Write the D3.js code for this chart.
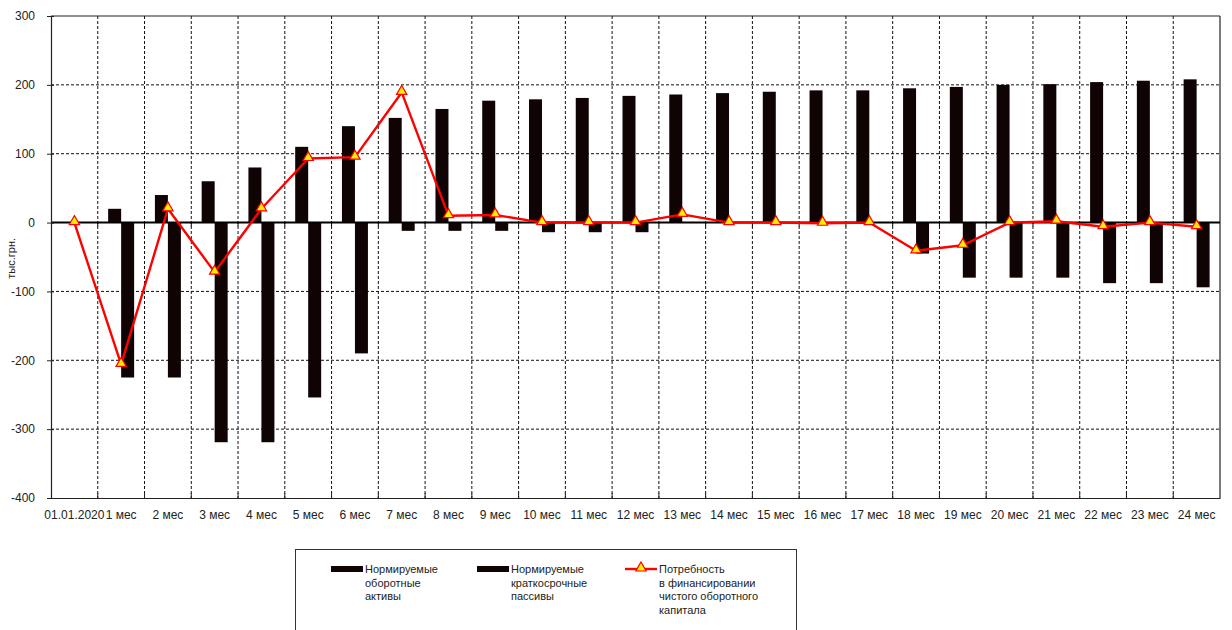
<!DOCTYPE html>
<html>
<head>
<meta charset="utf-8">
<script src="https://cdn.jsdelivr.net/npm/d3@7"></script>
<style>
  html, body { margin: 0; padding: 0; background: #fff; }
  svg { display: block; font-family: "Liberation Sans", Arial, sans-serif; }
</style>
</head>
<body>
<svg id="chart" width="1232" height="630"></svg>
<script>
// Categories: start date plus 24 months
const categories = ["01.01.2020", "1 мес", "2 мес", "3 мес", "4 мес", "5 мес", "6 мес", "7 мес", "8 мес",
  "9 мес", "10 мес", "11 мес", "12 мес", "13 мес", "14 мес", "15 мес", "16 мес", "17 мес", "18 мес",
  "19 мес", "20 мес", "21 мес", "22 мес", "23 мес", "24 мес"];

// Нормируемые оборотные активы, тыс.грн.
const assets = [0, 20, 40, 60, 80, 110, 140, 152, 165, 177, 179, 181, 184, 186, 188, 190, 192, 192,
  195, 197, 200, 201, 204, 206, 208];

// Нормируемые краткосрочные пассивы, тыс.грн.
const liabilities = [0, -225, -225, -319, -319, -254, -190, -12, -12, -12, -14, -14, -14, 0, 0, 0, 0, 0,
  -45, -80, -80, -80, -88, -88, -94];

// Потребность в финансировании чистого оборотного капитала, тыс.грн.
const need = [0, -206, 20, -72, 20, 93, 95, 189, 10, 11, 0, 0, 0, 12, 0, 0, -1, 0,
  -41, -33, 0, 2, -6, 0, -6];

const yTicks = [300, 200, 100, 0, -100, -200, -300, -400];

const legendItems = [
  { type: "bar", lines: ["Нормируемые", "оборотные", "активы"] },
  { type: "bar", lines: ["Нормируемые", "краткосрочные", "пассивы"] },
  { type: "line", lines: ["Потребность", "в финансировании", "чистого оборотного", "капитала"] }
];

const barColor = "#0f0303";
const lineColor = "#ff0000";
const markerFill = "#ffee00";

const svg = d3.select("#chart");
const plot = { left: 51, right: 1220, top: 16, bottom: 498 };

const x = d3.scaleBand().domain(categories).range([plot.left, plot.right]).padding(0);
const xSub = d3.scaleBand().domain(["a", "l"]).range([0, x.bandwidth()]).paddingInner(0).paddingOuter(0.8);
const y = d3.scaleLinear().domain([-400, 300]).range([plot.bottom, plot.top]);

// Horizontal dashed grid
svg.append("g")
  .selectAll("line")
  .data(yTicks.filter(d => d !== 300 && d !== -400 && d !== 0))
  .join("line")
  .attr("x1", plot.left).attr("x2", plot.right)
  .attr("y1", d => y(d)).attr("y2", d => y(d))
  .attr("stroke", "#111").attr("stroke-width", 1).attr("stroke-dasharray", "3,2");

// Vertical dashed grid at category boundaries
const boundaries = categories.slice(1).map(c => x(c));
svg.append("g")
  .selectAll("line")
  .data(boundaries)
  .join("line")
  .attr("x1", d => d).attr("x2", d => d)
  .attr("y1", plot.top).attr("y2", plot.bottom)
  .attr("stroke", "#111").attr("stroke-width", 1).attr("stroke-dasharray", "3,2");

// Bars
const bars = svg.append("g");
bars.selectAll("rect.a")
  .data(categories.map((c, i) => ({ c, v: assets[i] })).filter(d => d.v !== 0))
  .join("rect").attr("class", "a")
  .attr("x", d => x(d.c) + xSub("a"))
  .attr("width", xSub.bandwidth())
  .attr("y", d => y(Math.max(0, d.v)))
  .attr("height", d => Math.abs(y(d.v) - y(0)))
  .attr("fill", barColor);
bars.selectAll("rect.l")
  .data(categories.map((c, i) => ({ c, v: liabilities[i] })).filter(d => d.v !== 0))
  .join("rect").attr("class", "l")
  .attr("x", d => x(d.c) + xSub("l"))
  .attr("width", xSub.bandwidth())
  .attr("y", d => y(Math.max(0, d.v)))
  .attr("height", d => Math.abs(y(d.v) - y(0)))
  .attr("fill", barColor);

// Frame: top and right borders
svg.append("line").attr("x1", plot.left).attr("x2", plot.right).attr("y1", plot.top).attr("y2", plot.top)
  .attr("stroke", "#222").attr("stroke-width", 1.2);
svg.append("line").attr("x1", plot.right).attr("x2", plot.right).attr("y1", plot.top).attr("y2", plot.bottom)
  .attr("stroke", "#222").attr("stroke-width", 1.2);

// Zero line
svg.append("line").attr("x1", plot.left).attr("x2", plot.right).attr("y1", y(0)).attr("y2", y(0))
  .attr("stroke", "#000").attr("stroke-width", 2);
svg.append("g").selectAll("line").data(boundaries).join("line")
  .attr("x1", d => d).attr("x2", d => d).attr("y1", y(0)).attr("y2", y(0) + 4)
  .attr("stroke", "#000").attr("stroke-width", 1);

// Y axis
const yAxis = svg.append("g").attr("transform", `translate(${plot.left},0)`)
  .call(d3.axisLeft(y).tickValues(yTicks).tickSize(4).tickPadding(12).tickFormat(d => String(d)));
yAxis.select(".domain").attr("stroke", "#222").attr("stroke-width", 1.2);
yAxis.selectAll(".tick line").attr("stroke", "#222").attr("x2", 3).attr("x1", -4);
yAxis.selectAll(".tick text").attr("font-size", 12).attr("fill", "#222")
  .attr("font-family", "'Liberation Sans', Arial, sans-serif");

// X axis along the bottom
const xAxis = svg.append("g").attr("transform", `translate(0,${plot.bottom})`)
  .call(d3.axisBottom(x).tickSize(0).tickPadding(12));
xAxis.select(".domain").attr("stroke", "#222").attr("stroke-width", 1.2);
xAxis.selectAll(".tick text").attr("font-size", 12).attr("fill", "#222")
  .attr("font-family", "'Liberation Sans', Arial, sans-serif");
svg.append("g").selectAll("line").data(boundaries).join("line")
  .attr("x1", d => d).attr("x2", d => d).attr("y1", plot.bottom).attr("y2", plot.bottom - 5)
  .attr("stroke", "#222").attr("stroke-width", 1);

// Y axis title
svg.append("text")
  .attr("transform", `translate(15,${y(-52)}) rotate(-90)`)
  .attr("text-anchor", "middle")
  .attr("font-size", 11).attr("fill", "#222")
  .text("тыс.грн.");

// Financing need line with triangle markers
const pts = categories.map((c, i) => [x(c) + x.bandwidth() / 2, y(need[i])]);
svg.append("path")
  .attr("d", d3.line()(pts))
  .attr("fill", "none").attr("stroke", lineColor).attr("stroke-width", 2.4)
  .attr("stroke-linejoin", "round");
const tri = d3.symbol().type(d3.symbolTriangle).size(46);
svg.append("g").selectAll("path").data(pts).join("path")
  .attr("transform", d => `translate(${d[0]},${d[1] - 1})`)
  .attr("d", tri())
  .attr("fill", markerFill).attr("stroke", lineColor).attr("stroke-width", 1.2);

// Legend
const legend = svg.append("g");
legend.append("rect")
  .attr("x", 295.5).attr("y", 549.5).attr("width", 501).attr("height", 100)
  .attr("fill", "#fff").attr("stroke", "#333").attr("stroke-width", 1);
const legendX = [331, 477, 625];
legendItems.forEach((item, i) => {
  const g = legend.append("g").attr("transform", `translate(${legendX[i]},0)`);
  if (item.type === "bar") {
    g.append("rect").attr("x", 0).attr("y", 566).attr("width", 32).attr("height", 6).attr("fill", barColor);
  } else {
    g.append("line").attr("x1", 0).attr("x2", 32).attr("y1", 569).attr("y2", 569)
      .attr("stroke", lineColor).attr("stroke-width", 2.4);
    g.append("path").attr("transform", "translate(16,568)").attr("d", tri())
      .attr("fill", markerFill).attr("stroke", lineColor).attr("stroke-width", 1.2);
  }
  const t = g.append("text").attr("x", 34).attr("y", 573).attr("font-size", 11).attr("fill", "#222");
  item.lines.forEach((ln, k) => {
    t.append("tspan").attr("x", 34).attr("dy", k === 0 ? 0 : 13.5).text(ln);
  });
});
</script>
</body>
</html>
